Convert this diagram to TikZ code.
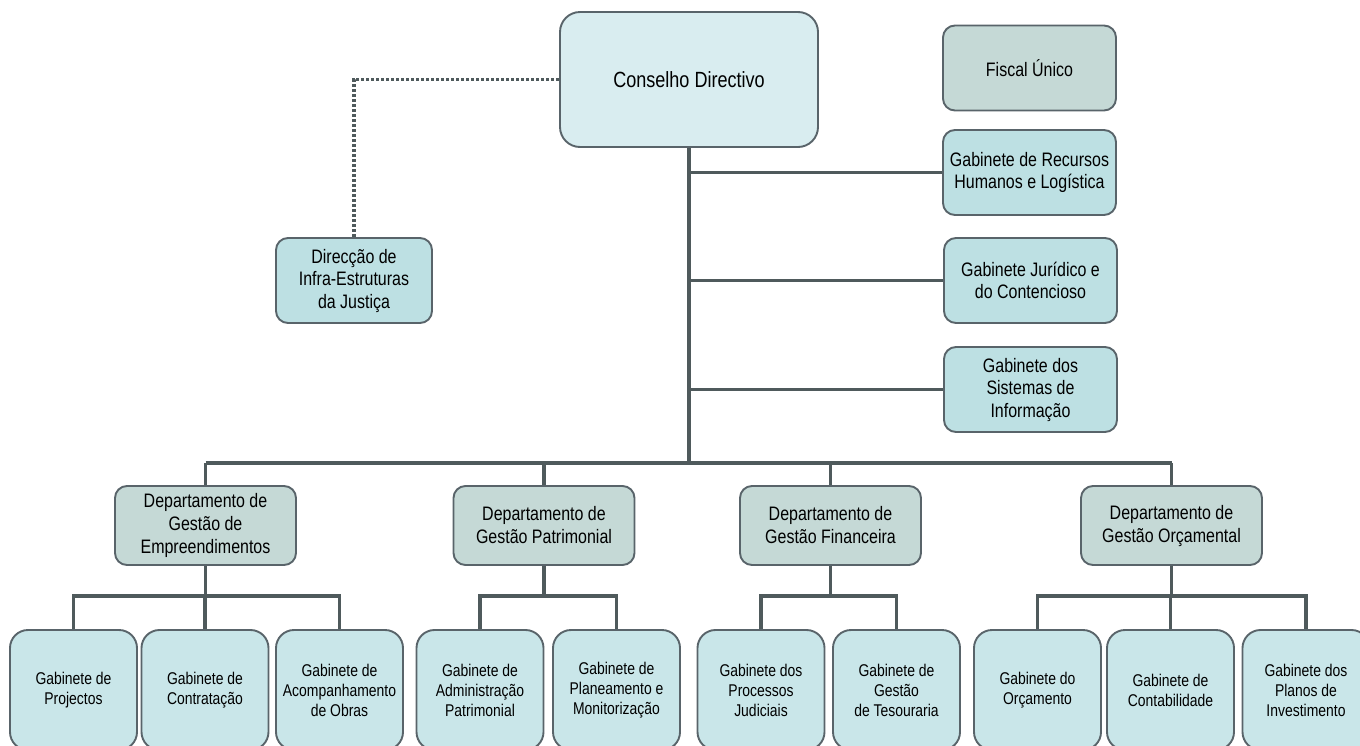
\documentclass[tikz,border=0pt]{standalone}
\usepackage{fontspec}
\usetikzlibrary{calc}
\setmainfont[FakeStretch=0.82]{Liberation Sans}
\definecolor{topfill}{HTML}{D9EDF0}
\definecolor{gabfill}{HTML}{BDE0E3}
\definecolor{botfill}{HTML}{C9E6E9}
\definecolor{depfill}{HTML}{C5D9D6}
\definecolor{bordc}{HTML}{59646A}
\definecolor{linec}{HTML}{4F5A5C}
\tikzset{
  box/.style={draw=bordc, line width=1.9pt, rounded corners=12pt, align=center, inner sep=0pt},
  topbox/.style={box, fill=topfill, minimum width=258pt, minimum height=135pt, rounded corners=20pt, font=\fontsize{22}{26}\selectfont},
  gabbox/.style={box, fill=gabfill, minimum width=173pt, minimum height=85pt, font=\fontsize{19.5}{22.5}\selectfont},
  fisbox/.style={gabbox, fill=depfill},
  depbox/.style={box, fill=depfill, minimum width=181pt, minimum height=79pt, font=\fontsize{19.5}{23}\selectfont},
  botbox/.style={box, fill=botfill, minimum width=127pt, minimum height=120pt, rounded corners=18pt, font=\fontsize{17}{20}\selectfont},
  conn/.style={draw=linec, line width=3.3pt},
  dotconn/.style={draw=linec, line width=3.2pt, dash pattern=on 3pt off 2pt}
}
\begin{document}
\begin{tikzpicture}[x=1pt,y=-1pt]
\useasboundingbox (0,0) rectangle (1360,745);
\clip (0,0) rectangle (1360,745);
% top level
\node[topbox] (cons) at (689,79.5) {Conselho Directivo};
\node[fisbox] (fis) at (1029.5,68) {Fiscal Único};
\node[gabbox] (rh) at (1029.5,172.5) {Gabinete de Recursos\\Humanos e Logística};
\node[gabbox] (jur) at (1030.5,280.5) {Gabinete Jurídico e\\do Contencioso};
\node[gabbox] (sis) at (1030.5,389.5) {Gabinete dos\\Sistemas de\\Informação};
\node[gabbox, minimum width=156pt] (dir) at (354,280.5) {Direcção de\\Infra-Estruturas\\da Justiça};
% departments
\node[depbox] (d1) at (205.5,525.5) {Departamento de\\Gestão de\\Empreendimentos};
\node[depbox] (d2) at (544,525.5) {Departamento de\\Gestão Patrimonial};
\node[depbox] (d3) at (830.5,525.5) {Departamento de\\Gestão Financeira};
\node[depbox] (d4) at (1171.5,525.5) {Departamento de\\Gestão Orçamental};
% bottom level
\node[botbox] (b11) at (73.5,690) {Gabinete de\\Projectos};
\node[botbox] (b12) at (205,690) {Gabinete de\\Contratação};
\node[botbox] (b13) at (339.5,690) {Gabinete de\\Acompanhamento\\de Obras};
\node[botbox] (b21) at (480,690) {Gabinete de\\Administração\\Patrimonial};
\node[botbox] (b22) at (616.5,690) {Gabinete de\\Planeamento e\\Monitorização};
\node[botbox] (b31) at (761,690) {Gabinete dos\\Processos\\Judiciais};
\node[botbox] (b32) at (896.5,690) {Gabinete de\\Gestão\\de Tesouraria};
\node[botbox] (b41) at (1037.5,690) {Gabinete do\\Orçamento};
\node[botbox] (b42) at (1170.5,690) {Gabinete de\\Contabilidade};
\node[botbox] (b43) at (1306,690) {Gabinete dos\\Planos de\\Investimento};
% helper coordinates
\coordinate (tb) at (689,463);
\coordinate (t1) at (205.5,463);
\coordinate (t4) at (1171.5,463);
% dotted link
\draw[dotconn] (cons.west) -| (dir.north);
% trunk
\draw[conn] (cons.south) -- (tb);
\draw[conn] (cons.south |- rh.west) -- (rh.west);
\draw[conn] (cons.south |- jur.west) -- (jur.west);
\draw[conn] (cons.south |- sis.west) -- (sis.west);
\draw[conn] (t1) -- (t4);
\draw[conn] (t1) -- (d1.north);
\draw[conn] (d2.north |- tb) -- (d2.north);
\draw[conn] (d3.north |- tb) -- (d3.north);
\draw[conn] (t4) -- (d4.north);
% department subtrees
\foreach \d/\first/\last in {d1/b11/b13, d2/b21/b22, d3/b31/b32, d4/b41/b43}{
  \draw[conn] (\d.south) -- ++(0,32);
  \draw[conn] (\first.north) -- ++(0,-33) -| (\last.north);
}
\draw[conn] (b12.north) -- ++(0,-33);
\draw[conn] (b42.north) -- ++(0,-33);
\end{tikzpicture}
\end{document}
